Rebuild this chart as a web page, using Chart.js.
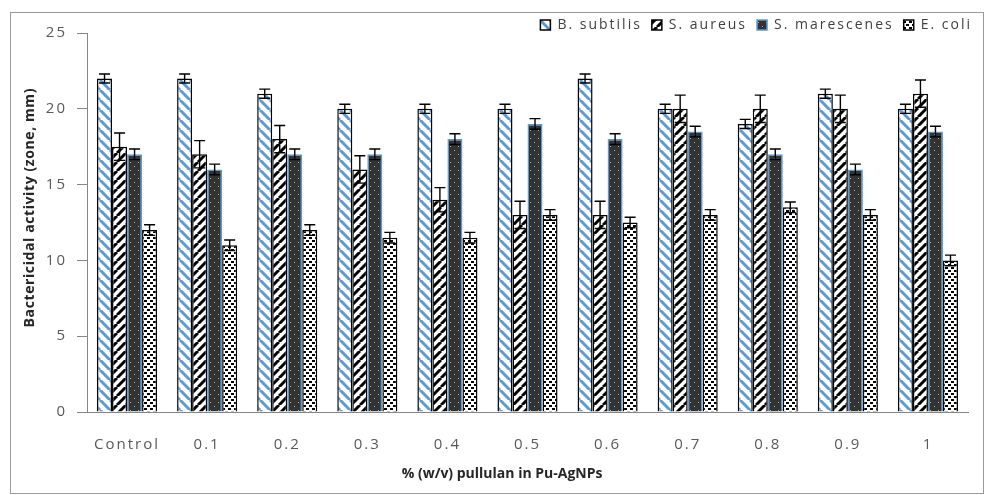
<!DOCTYPE html>
<html>
<head>
<meta charset="utf-8">
<script src="https://cdn.jsdelivr.net/npm/chart.js@4/dist/chart.umd.min.js"></script>
<style>
  html, body { margin: 0; padding: 0; background: #fff; }
  #wrap { width: 986px; height: 495px; position: relative; }
</style>
</head>
<body>
<div id="wrap"><canvas id="c" width="986" height="495"></canvas></div>
<script>
const categories = ["Control", "0.1", "0.2", "0.3", "0.4", "0.5", "0.6", "0.7", "0.8", "0.9", "1"];
const seriesNames = ["B. subtilis", "S. aureus", "S. marescenes", "E. coli"];
const bSubtilis   = [22, 22, 21, 20, 20, 20, 22, 20, 19, 21, 20];
const sAureus     = [17.5, 17, 18, 16, 14, 13, 13, 20, 20, 20, 21];
const sMarescenes = [17, 16, 17, 17, 18, 19, 18, 18.5, 17, 16, 18.5];
const eColi       = [12, 11, 12, 11.5, 11.5, 13, 12.5, 13, 13.5, 13, 10];
const errBSubtilis   = [0.3, 0.3, 0.3, 0.3, 0.3, 0.3, 0.3, 0.3, 0.3, 0.3, 0.3];
const errSAureus     = [0.9, 0.9, 0.9, 0.9, 0.8, 0.9, 0.9, 0.9, 0.9, 0.9, 0.9];
const errSMarescenes = [0.35, 0.35, 0.35, 0.35, 0.35, 0.35, 0.35, 0.35, 0.35, 0.35, 0.35];
const errEColi       = [0.35, 0.35, 0.35, 0.35, 0.35, 0.35, 0.35, 0.35, 0.35, 0.35, 0.35];
const yTicks = [0, 5, 10, 15, 20, 25];
const xTitle = "% (w/v) pullulan in Pu-AgNPs";
const yTitle = "Bactericidal activity (zone, mm)";

function makePattern(w, h, draw) {
  const c = document.createElement('canvas');
  c.width = w; c.height = h;
  const g = c.getContext('2d');
  draw(g, w, h);
  return document.getElementById('c').getContext('2d').createPattern(c, 'repeat');
}
const patBlueStripe = makePattern(10, 10, (g, w, h) => {
  g.fillStyle = '#fff'; g.fillRect(0, 0, w, h);
  g.strokeStyle = '#5b9bd5'; g.lineWidth = 3;
  for (const k of [-10, 0, 10]) { g.beginPath(); g.moveTo(k, 0); g.lineTo(k + 10, 10); g.stroke(); }
});
const patBlackStripe = makePattern(9, 9, (g, w, h) => {
  g.fillStyle = '#fff'; g.fillRect(0, 0, w, h);
  g.strokeStyle = '#000'; g.lineWidth = 3;
  for (const k of [-9, 0, 9]) { g.beginPath(); g.moveTo(k, 9); g.lineTo(k + 9, 0); g.stroke(); }
});
const patDarkDots = makePattern(8, 8, (g, w, h) => {
  g.fillStyle = '#333333'; g.fillRect(0, 0, w, h);
  g.fillStyle = '#9fbf8a'; g.fillRect(2, 2, 1, 1); g.fillRect(6, 6, 1, 1);
});
const patConfetti = makePattern(6, 6, (g, w, h) => {
  g.fillStyle = '#fff'; g.fillRect(0, 0, w, h);
  g.fillStyle = '#000'; g.fillRect(0, 0, 3, 2); g.fillRect(3, 3, 3, 2);
});

const errors = [errBSubtilis, errSAureus, errSMarescenes, errEColi];

const errorBarPlugin = {
  id: 'errorBars',
  afterDatasetsDraw(chart) {
    const ctx = chart.ctx, ys = chart.scales.y;
    ctx.save();
    ctx.strokeStyle = '#000'; ctx.lineWidth = 1.4;
    chart.data.datasets.forEach((ds, i) => {
      const meta = chart.getDatasetMeta(i);
      meta.data.forEach((el, j) => {
        const v = ds.data[j], e = errors[i][j];
        const yt = ys.getPixelForValue(v + e), yb = ys.getPixelForValue(v - e);
        const x = el.x, cw = 5.5;
        ctx.beginPath();
        ctx.moveTo(x, yt); ctx.lineTo(x, yb);
        ctx.moveTo(x - cw, yt); ctx.lineTo(x + cw, yt);
        ctx.moveTo(x - cw, yb); ctx.lineTo(x + cw, yb);
        ctx.stroke();
      });
    });
    ctx.restore();
  }
};
const framePlugin = {
  id: 'frame',
  beforeDraw(chart) {
    const ctx = chart.ctx;
    ctx.save();
    ctx.fillStyle = '#fff'; ctx.fillRect(0, 0, chart.width, chart.height);
    ctx.strokeStyle = '#9a9a9a'; ctx.lineWidth = 1;
    ctx.strokeRect(10.5, 12.5, 973, 481);
    ctx.restore();
  }
};
function withSpacing(obj, name, spacing) {
  const key = '__wrapped_' + name;
  if (!obj || obj[key]) return;
  const orig = obj[name];
  obj[name] = function (...args) {
    const ctx = this.ctx || this.chart.ctx;
    const prev = ctx.letterSpacing;
    ctx.letterSpacing = spacing;
    const r = orig.apply(this, args);
    ctx.letterSpacing = prev;
    return r;
  };
  obj[key] = true;
}
const spacingPlugin = {
  id: 'spacing',
  beforeLayout(chart) {
    const lg = chart.legend;
    if (lg && !lg.__hfix) {
      withSpacing(lg, 'fit', '2px');
      withSpacing(lg, 'draw', '2px');
      const origUpdate = lg.update;
      lg.update = function (...a) { const r = origUpdate.apply(this, a); this.height = 25; return r; };
      lg.__hfix = true;
    }
    withSpacing(chart.scales.x, 'drawLabels', '2px');
    withSpacing(chart.scales.y, 'drawLabels', '2px');
    withSpacing(chart.scales.y, 'drawTitle', '0.6px');
  },
  afterLayout(chart) {
    if (chart.legend) chart.legend.right = 982;
  }
};

new Chart(document.getElementById('c'), {
  type: 'bar',
  data: {
    labels: categories,
    datasets: [
      { label: seriesNames[0], data: bSubtilis, backgroundColor: patBlueStripe, borderColor: '#000', borderWidth: 1.5 },
      { label: seriesNames[1], data: sAureus, backgroundColor: patBlackStripe, borderColor: '#000', borderWidth: 1.5 },
      { label: seriesNames[2], data: sMarescenes, backgroundColor: patDarkDots, borderColor: '#5b9bd5', borderWidth: 1.5 },
      { label: seriesNames[3], data: eColi, backgroundColor: patConfetti, borderColor: '#000', borderWidth: 1.5 }
    ]
  },
  options: {
    responsive: false,
    animation: false,
    devicePixelRatio: 1,
    categoryPercentage: 0.75,
    barPercentage: 1,
    layout: { padding: { left: 12, right: 18, top: 8, bottom: 4 } },
    plugins: {
      legend: {
        position: 'top', align: 'end',
        labels: { boxWidth: 10, boxHeight: 10, padding: 10, color: '#404040', font: { family: 'Open Sans', size: 14 } }
      },
      tooltip: { enabled: false }
    },
    scales: {
      x: {
        afterFit(s) { s.height = 79; },
        grid: { display: false },
        border: { color: '#868686', width: 1 },
        ticks: { color: '#595959', font: { family: 'Open Sans', size: 15 }, padding: 16, maxRotation: 0, autoSkip: false },
        title: { display: true, text: xTitle + '\u00A0'.repeat(14), color: '#262626', font: { family: 'Open Sans', size: 14, weight: 'bold' }, padding: { top: 0, bottom: 9 } }
      },
      y: {
        min: 0, max: 25,
        afterFit(s) { s.width = 75; },
        afterBuildTicks(scale) { scale.ticks = yTicks.map(v => ({ value: v })); },
        grid: { display: true, drawOnChartArea: false, tickLength: 10, color: '#868686' },
        border: { color: '#868686', width: 1 },
        ticks: { color: '#595959', font: { family: 'Open Sans', size: 15 }, padding: 10 },
        title: { display: true, text: '\u00A0'.repeat(7) + yTitle, color: '#262626', font: { family: 'Open Sans', size: 14, weight: 'bold' }, padding: { top: 10, bottom: 0 } }
      }
    }
  },
  plugins: [errorBarPlugin, framePlugin, spacingPlugin]
});
</script>
</body>
</html>
